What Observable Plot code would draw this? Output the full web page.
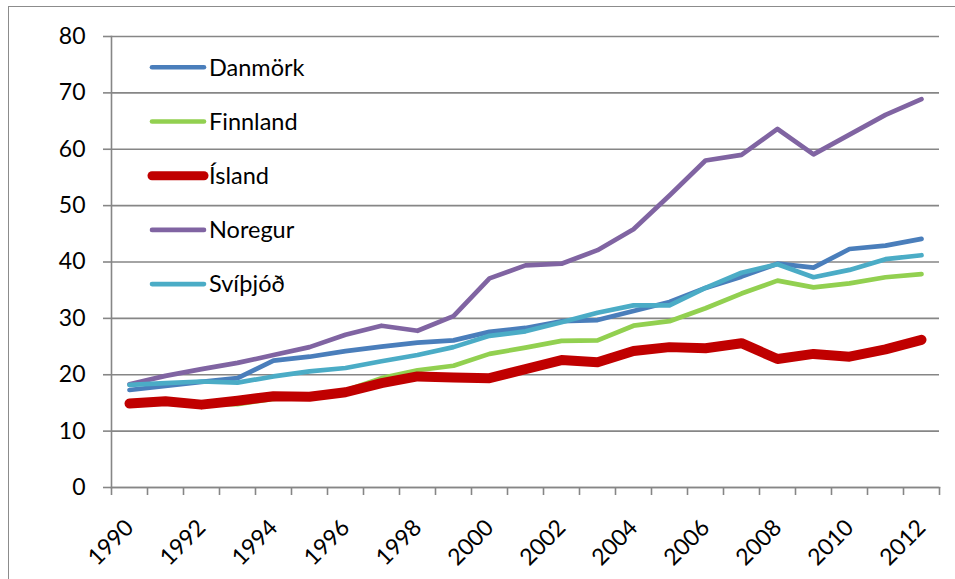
<!DOCTYPE html>
<html>
<head>
<meta charset="utf-8">
<script src="https://cdn.jsdelivr.net/npm/d3@7"></script>
<script src="https://cdn.jsdelivr.net/npm/@observablehq/plot@0.6"></script>
<style>
  html, body { margin: 0; padding: 0; background: #fff; }
  #wrap { position: relative; width: 955px; height: 579px; overflow: hidden; }
  #border { position: absolute; left: 8px; top: 6px; right: -2px; bottom: -2px;
            border-top: 1.5px solid #8c8c8c; border-left: 1.5px solid #8c8c8c; }
  #legend { position: absolute; left: 0; top: 0; pointer-events: none; }
</style>
</head>
<body>
<div id="wrap"><div id="border"></div></div>
<script>
const years = [1990,1991,1992,1993,1994,1995,1996,1997,1998,1999,2000,2001,2002,2003,2004,2005,2006,2007,2008,2009,2010,2011,2012];
const xTickLabels = [1990,1992,1994,1996,1998,2000,2002,2004,2006,2008,2010,2012];
const yTicks = [0,10,20,30,40,50,60,70,80];

const seriesNames = ["Danmörk","Finnland","Ísland","Noregur","Svíþjóð"];
const seriesColors = ["#4A7EBB","#92D050","#C00000","#8064A2","#4BACC6"];
const seriesWidths = [4.7,4.7,10,4.7,4.7];

const danmork  = [17.3,18.0,18.75,19.4,22.5,23.2,24.2,25.0,25.7,26.1,27.6,28.3,29.5,29.7,31.3,32.9,35.4,37.4,39.7,39.0,42.3,42.9,44.1];
const finnland = [15.0,15.2,14.8,14.8,15.7,16.4,17.2,19.4,20.8,21.6,23.7,24.8,26.0,26.1,28.7,29.5,31.8,34.4,36.7,35.5,36.2,37.3,37.85];
const island   = [14.9,15.3,14.7,15.4,16.2,16.1,16.9,18.5,19.7,19.5,19.4,21.0,22.6,22.2,24.2,24.9,24.7,25.6,22.8,23.7,23.2,24.5,26.2];
const noregur  = [18.3,19.8,21.0,22.1,23.5,24.9,27.1,28.7,27.8,30.4,37.1,39.4,39.7,42.1,45.8,51.8,58.0,59.0,63.6,59.1,62.6,66.1,68.9];
const svithjod = [18.2,18.5,18.8,18.6,19.7,20.6,21.2,22.4,23.5,24.9,26.9,27.7,29.3,31.0,32.3,32.3,35.4,38.1,39.6,37.3,38.6,40.5,41.2];

const seriesValues = [danmork, finnland, island, noregur, svithjod];

const gridColor = "#868686";
const font = "Lato, 'Open Sans', sans-serif";

const lineMarks = seriesNames.map((name, k) =>
  Plot.line(seriesValues[k].map((v, i) => ({year: years[i], value: v})), {
    x: "year", y: "value",
    stroke: seriesColors[k], strokeWidth: seriesWidths[k],
    strokeLinejoin: "round", strokeLinecap: "round"
  })
);

const chart = Plot.plot({
  width: 955, height: 579,
  marginLeft: 111, marginRight: 16, marginTop: 36, marginBottom: 92,
  style: {fontFamily: font, fontSize: "23px", color: "#000", background: "transparent"},
  x: {type: "point", domain: years, padding: 0.5, label: null},
  y: {domain: [0, 80], label: null},
  marks: [
    Plot.gridY(yTicks, {stroke: gridColor, strokeOpacity: 1, strokeWidth: 1.6}),
    Plot.axisY(yTicks, {tickSize: 8, tickPadding: 18, stroke: gridColor, strokeWidth: 1.6, fill: "#000", fontSize: 23, label: null}),
    Plot.frame({anchor: "left", stroke: gridColor, strokeWidth: 1.6}),
    Plot.frame({anchor: "bottom", stroke: gridColor, strokeWidth: 1.6}),
    Plot.ruleX(years, {x: d => d, dx: -18, y1: 0, y2: 0, insetBottom: -8, stroke: gridColor, strokeWidth: 1.6}),
    Plot.ruleX([years[years.length - 1]], {x: d => d, dx: 18, y1: 0, y2: 0, insetBottom: -8, stroke: gridColor, strokeWidth: 1.6}),
    Plot.axisX(xTickLabels, {tickSize: 0, rotate: -45, tickPadding: 30, dx: -6, fill: "#000", fontSize: 23, textAnchor: "end", tickFormat: d => String(d), label: null}),
    ...lineMarks
  ]
});
document.getElementById("wrap").appendChild(chart);
chart.style.position = "absolute";
chart.style.left = "0px";
chart.style.top = "0px";

// legend
const leg = d3.create("svg").attr("id", "legend").attr("width", 955).attr("height", 579);
seriesNames.forEach((name, k) => {
  const y = 67.3 + 54.2 * k;
  leg.append("line").attr("x1", 152).attr("x2", 204).attr("y1", y).attr("y2", y)
    .attr("stroke", seriesColors[k]).attr("stroke-width", seriesWidths[k] === 10 ? 9 : 4.6)
    .attr("stroke-linecap", "round");
  leg.append("text").attr("x", 209).attr("y", y).attr("dy", "0.35em")
    .attr("font-family", font).attr("font-size", 23.5).attr("fill", "#000").text(name);
});
document.getElementById("wrap").appendChild(leg.node());
</script>
</body>
</html>
